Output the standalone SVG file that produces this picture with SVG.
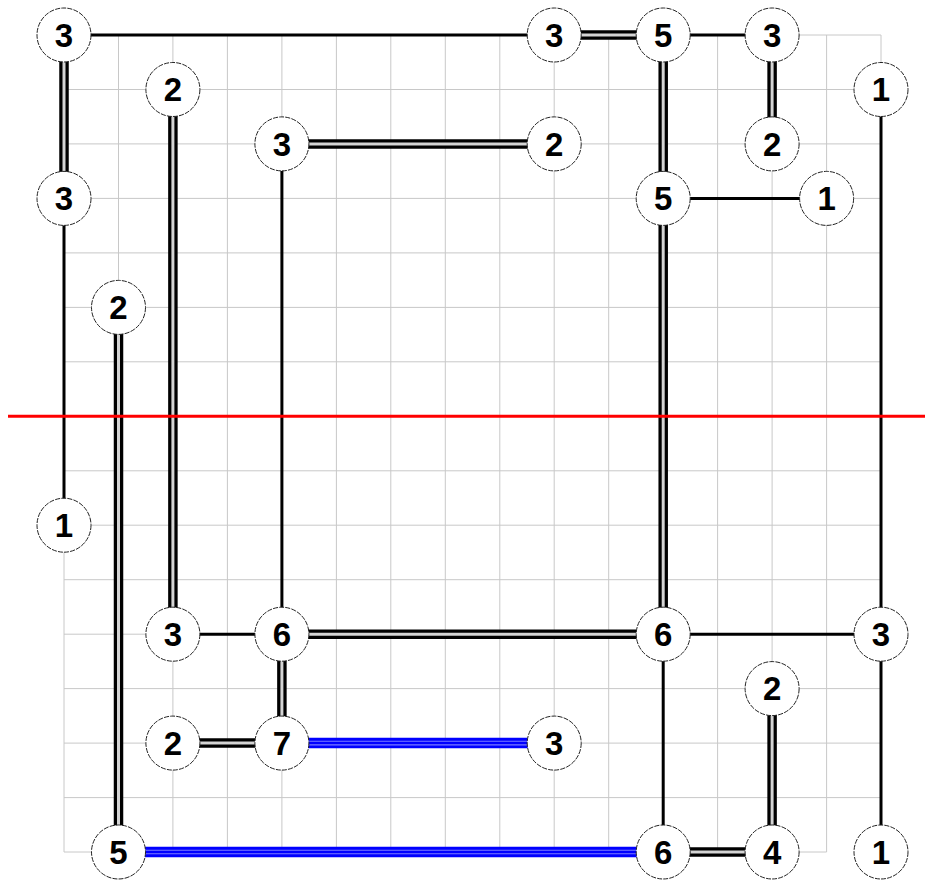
<svg xmlns="http://www.w3.org/2000/svg" width="925" height="880" viewBox="0 0 925 880">
<style>
.grid{stroke:#c8c8c8;stroke-width:1;fill:none}
.s{stroke:#000;stroke-width:3}
.d{stroke:#000;stroke-width:9.5}
.di{stroke:#d4d4d4;stroke-width:3}
.t{stroke:#0000ff;stroke-width:10.5}
.ti{stroke:#7a7aff;stroke-width:1.1}
.n circle{fill:#fff;stroke:#222;stroke-width:1;stroke-dasharray:5 1.2}
.n text{font-family:"Liberation Sans",Arial,sans-serif;font-weight:bold;font-size:33px;text-anchor:middle;fill:#000}
.red{stroke:#ff0000;stroke-width:3}
</style>
<rect width="925" height="880" fill="#fff"/>
<g id="grid" class="grid">
<path d="M64 35V852M118.5 35V852M172.9 35V852M227.4 35V852M281.9 35V852M336.4 35V852M390.8 35V852M445.3 35V852M499.8 35V852M554.2 35V852M608.7 35V852M663.2 35V852M717.6 35V852M772.1 35V852M826.6 35V852M881 35V852"/>
<path d="M64 35H881M64 89.5H881M64 143.9H881M64 198.4H881M64 252.9H881M64 307.4H881M64 361.8H881M64 416.3H881M64 470.8H881M64 525.2H881M64 579.7H881M64 634.2H881M64 688.6H881M64 743.1H881M64 797.6H881M64 852H826.6"/>
</g>
<g id="connectors">
<line class="s" x1="64" y1="35" x2="554.2" y2="35"/>
<line class="s" x1="663.2" y1="35" x2="772.1" y2="35"/>
<line class="s" x1="663.2" y1="198.4" x2="826.6" y2="198.4"/>
<line class="s" x1="281.9" y1="143.9" x2="281.9" y2="634.2"/>
<line class="s" x1="64" y1="198.4" x2="64" y2="525.2"/>
<line class="s" x1="881" y1="89.5" x2="881" y2="634.2"/>
<line class="s" x1="172.9" y1="634.2" x2="281.9" y2="634.2"/>
<line class="s" x1="663.2" y1="634.2" x2="881" y2="634.2"/>
<line class="s" x1="663.2" y1="634.2" x2="663.2" y2="852"/>
<line class="s" x1="881" y1="634.2" x2="881" y2="852"/>
<g id="d1"><line class="d" x1="554.2" y1="35" x2="663.2" y2="35"/><line class="di" x1="554.2" y1="35" x2="663.2" y2="35"/></g>
<g id="d2"><line class="d" x1="64" y1="35" x2="64" y2="198.4"/><line class="di" x1="64" y1="35" x2="64" y2="198.4"/></g>
<g id="d3"><line class="d" x1="772.1" y1="35" x2="772.1" y2="143.9"/><line class="di" x1="772.1" y1="35" x2="772.1" y2="143.9"/></g>
<g id="d4"><line class="d" x1="663.2" y1="35" x2="663.2" y2="198.4"/><line class="di" x1="663.2" y1="35" x2="663.2" y2="198.4"/></g>
<g id="d5"><line class="d" x1="172.9" y1="89.5" x2="172.9" y2="634.2"/><line class="di" x1="172.9" y1="89.5" x2="172.9" y2="634.2"/></g>
<g id="d6"><line class="d" x1="281.9" y1="143.9" x2="554.2" y2="143.9"/><line class="di" x1="281.9" y1="143.9" x2="554.2" y2="143.9"/></g>
<g id="d7"><line class="d" x1="118.5" y1="307.4" x2="118.5" y2="852"/><line class="di" x1="118.5" y1="307.4" x2="118.5" y2="852"/></g>
<g id="d8"><line class="d" x1="663.2" y1="198.4" x2="663.2" y2="634.2"/><line class="di" x1="663.2" y1="198.4" x2="663.2" y2="634.2"/></g>
<g id="d9"><line class="d" x1="281.9" y1="634.2" x2="663.2" y2="634.2"/><line class="di" x1="281.9" y1="634.2" x2="663.2" y2="634.2"/></g>
<g id="d10"><line class="d" x1="281.9" y1="634.2" x2="281.9" y2="743.1"/><line class="di" x1="281.9" y1="634.2" x2="281.9" y2="743.1"/></g>
<g id="d11"><line class="d" x1="172.9" y1="743.1" x2="281.9" y2="743.1"/><line class="di" x1="172.9" y1="743.1" x2="281.9" y2="743.1"/></g>
<g id="d12"><line class="d" x1="772.1" y1="688.6" x2="772.1" y2="852"/><line class="di" x1="772.1" y1="688.6" x2="772.1" y2="852"/></g>
<g id="d13"><line class="d" x1="663.2" y1="852" x2="772.1" y2="852"/><line class="di" x1="663.2" y1="852" x2="772.1" y2="852"/></g>
<g id="t1"><line class="t" x1="281.9" y1="743.1" x2="554.2" y2="743.1"/><line class="ti" x1="281.9" y1="741.3" x2="554.2" y2="741.3"/><line class="ti" x1="281.9" y1="744.9" x2="554.2" y2="744.9"/></g>
<g id="t2"><line class="t" x1="118.5" y1="852" x2="663.2" y2="852"/><line class="ti" x1="118.5" y1="850.2" x2="663.2" y2="850.2"/><line class="ti" x1="118.5" y1="853.8" x2="663.2" y2="853.8"/></g>
</g>
<g id="nodes">
<g id="n0_0" class="n"><circle cx="64" cy="35" r="27"/><text x="64" y="46.8">3</text></g>
<g id="n9_0" class="n"><circle cx="554.2" cy="35" r="27"/><text x="554.2" y="46.8">3</text></g>
<g id="n11_0" class="n"><circle cx="663.2" cy="35" r="27"/><text x="663.2" y="46.8">5</text></g>
<g id="n13_0" class="n"><circle cx="772.1" cy="35" r="27"/><text x="772.1" y="46.8">3</text></g>
<g id="n2_1" class="n"><circle cx="172.9" cy="89.5" r="27"/><text x="172.9" y="101.3">2</text></g>
<g id="n15_1" class="n"><circle cx="881" cy="89.5" r="27"/><text x="881" y="101.3">1</text></g>
<g id="n4_2" class="n"><circle cx="281.9" cy="143.9" r="27"/><text x="281.9" y="155.7">3</text></g>
<g id="n9_2" class="n"><circle cx="554.2" cy="143.9" r="27"/><text x="554.2" y="155.7">2</text></g>
<g id="n13_2" class="n"><circle cx="772.1" cy="143.9" r="27"/><text x="772.1" y="155.7">2</text></g>
<g id="n0_3" class="n"><circle cx="64" cy="198.4" r="27"/><text x="64" y="210.2">3</text></g>
<g id="n11_3" class="n"><circle cx="663.2" cy="198.4" r="27"/><text x="663.2" y="210.2">5</text></g>
<g id="n14_3" class="n"><circle cx="826.6" cy="198.4" r="27"/><text x="826.6" y="210.2">1</text></g>
<g id="n1_5" class="n"><circle cx="118.5" cy="307.4" r="27"/><text x="118.5" y="319.2">2</text></g>
<g id="n0_9" class="n"><circle cx="64" cy="525.2" r="27"/><text x="64" y="537">1</text></g>
<g id="n2_11" class="n"><circle cx="172.9" cy="634.2" r="27"/><text x="172.9" y="646">3</text></g>
<g id="n4_11" class="n"><circle cx="281.9" cy="634.2" r="27"/><text x="281.9" y="646">6</text></g>
<g id="n11_11" class="n"><circle cx="663.2" cy="634.2" r="27"/><text x="663.2" y="646">6</text></g>
<g id="n15_11" class="n"><circle cx="881" cy="634.2" r="27"/><text x="881" y="646">3</text></g>
<g id="n13_12" class="n"><circle cx="772.1" cy="688.6" r="27"/><text x="772.1" y="700.4">2</text></g>
<g id="n2_13" class="n"><circle cx="172.9" cy="743.1" r="27"/><text x="172.9" y="754.9">2</text></g>
<g id="n4_13" class="n"><circle cx="281.9" cy="743.1" r="27"/><text x="281.9" y="754.9">7</text></g>
<g id="n9_13" class="n"><circle cx="554.2" cy="743.1" r="27"/><text x="554.2" y="754.9">3</text></g>
<g id="n1_15" class="n"><circle cx="118.5" cy="852" r="27"/><text x="118.5" y="863.8">5</text></g>
<g id="n11_15" class="n"><circle cx="663.2" cy="852" r="27"/><text x="663.2" y="863.8">6</text></g>
<g id="n13_15" class="n"><circle cx="772.1" cy="852" r="27"/><text x="772.1" y="863.8">4</text></g>
<g id="n15_15" class="n"><circle cx="881" cy="852" r="27"/><text x="881" y="863.8">1</text></g>
</g>
<line id="cut" class="red" x1="8" y1="416.3" x2="925" y2="416.3"/>
</svg>
